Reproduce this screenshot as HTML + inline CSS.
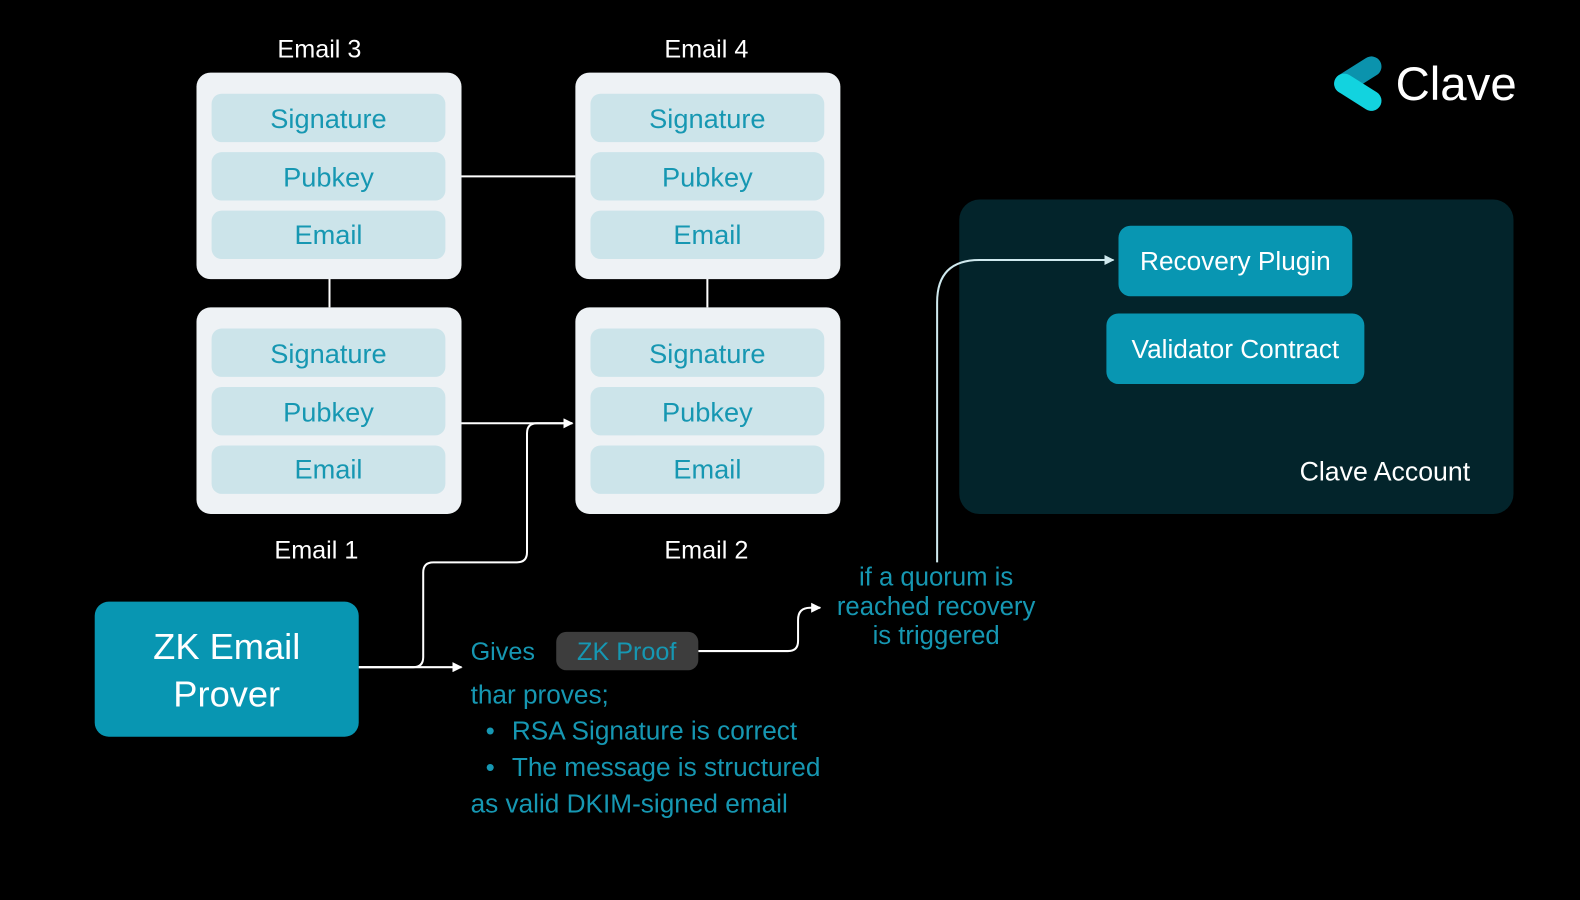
<!DOCTYPE html>
<html><head><meta charset="utf-8"><style>
html,body{margin:0;padding:0;background:#000;width:1580px;height:900px;overflow:hidden}
svg{display:block}
text{font-family:"Liberation Sans",sans-serif}
</style></head><body>
<svg width="1580" height="900" viewBox="0 0 1568 893" preserveAspectRatio="none" xmlns="http://www.w3.org/2000/svg">
<defs>
<marker id="ah" markerWidth="10" markerHeight="10" refX="9" refY="5" orient="auto" markerUnits="userSpaceOnUse">
<path d="M0,0 L10,5 L0,10 z" fill="#fff"/></marker>
<marker id="ah2" markerWidth="10" markerHeight="10" refX="9" refY="5" orient="auto" markerUnits="userSpaceOnUse">
<path d="M0,0 L10,5 L0,10 z" fill="#cfe9ee"/></marker>
<g id="card">
<rect x="0" y="0" width="263" height="205" rx="14" fill="#eef2f5"/>
<rect x="15" y="21" width="232" height="48" rx="10" fill="#cce4ea"/>
<rect x="15" y="79" width="232" height="48" rx="10" fill="#cce4ea"/>
<rect x="15" y="137" width="232" height="48" rx="10" fill="#cce4ea"/>
<g fill="#1697b2" font-size="27" text-anchor="middle">
<text x="131" y="55">Signature</text>
<text x="131" y="113">Pubkey</text>
<text x="131" y="170">Email</text>
</g>
</g>
</defs>
<rect width="1568" height="893" fill="#000"/>

<!-- connectors between cards -->
<g stroke="#fff" stroke-width="2" fill="none">
<line x1="457" y1="175" x2="571" y2="175"/>
<line x1="327" y1="276" x2="327" y2="305"/>
<line x1="702" y1="276" x2="702" y2="305"/>
<line x1="457" y1="420" x2="568" y2="420" marker-end="url(#ah)"/>
<path d="M356,662 H410 Q420,662 420,652 V568 Q420,558 430,558 H513 Q523,558 523,548 V430 Q523,420 533,420 H568" marker-end="url(#ah)"/>
<line x1="356" y1="662" x2="458" y2="662" marker-end="url(#ah)"/>
<path d="M693,646 H782 Q792,646 792,636 V615 Q792,603 804,603 H814" marker-end="url(#ah)"/>
</g>

<use href="#card" x="195" y="72"/>
<use href="#card" x="571" y="72"/>
<use href="#card" x="195" y="305"/>
<use href="#card" x="571" y="305"/>

<g fill="#fff" font-size="25" text-anchor="middle">
<text x="317" y="57">Email 3</text>
<text x="701" y="57">Email 4</text>
<text x="314" y="554">Email 1</text>
<text x="701" y="554">Email 2</text>
</g>

<!-- prover -->
<rect x="94" y="597" width="262" height="134" rx="14" fill="#0896b2"/>
<g fill="#fff" font-size="36" text-anchor="middle">
<text x="225" y="654">ZK Email</text>
<text x="225" y="701">Prover</text>
</g>

<text x="467" y="655" fill="#1697b2" font-size="25">Gives</text>
<rect x="552" y="627" width="141" height="38" rx="10" fill="#3d3d3d"/>
<text x="622" y="655" fill="#1697b2" font-size="25" text-anchor="middle">ZK Proof</text>

<g fill="#1697b2" font-size="26">
<text x="467" y="698">thar proves;</text>
<text x="482" y="734">•</text><text x="508" y="734">RSA Signature is correct</text>
<text x="482" y="770">•</text><text x="508" y="770">The message is structured</text>
<text x="467" y="806">as valid DKIM-signed email</text>
</g>

<g fill="#1697b2" font-size="25.5" text-anchor="middle">
<text x="929" y="581">if a quorum is</text>
<text x="929" y="610">reached recovery</text>
<text x="929" y="639">is triggered</text>
</g>

<!-- clave account -->
<rect x="952" y="198" width="550" height="312" rx="20" fill="#03242b"/>
<rect x="1110" y="224" width="232" height="70" rx="12" fill="#0896b2"/>
<text x="1226" y="268" fill="#fff" font-size="26" text-anchor="middle">Recovery Plugin</text>
<rect x="1098" y="311" width="256" height="70" rx="12" fill="#0896b2"/>
<text x="1226" y="355" fill="#fff" font-size="26" text-anchor="middle">Validator Contract</text>
<text x="1459" y="477" fill="#fff" font-size="26.5" text-anchor="end">Clave Account</text>

<path d="M930,558 V300 Q930,258 972,258 H1105" stroke="#cfe9ee" stroke-width="2" fill="none" marker-end="url(#ah2)"/>

<!-- logo -->
<line x1="1361" y1="66" x2="1334" y2="83" stroke="#0b93ad" stroke-width="20" stroke-linecap="round"/>
<line x1="1334" y1="83" x2="1361" y2="100" stroke="#12d3df" stroke-width="20" stroke-linecap="round"/>
<text x="1385" y="99" fill="#fff" font-size="47">Clave</text>
</svg>
</body></html>
